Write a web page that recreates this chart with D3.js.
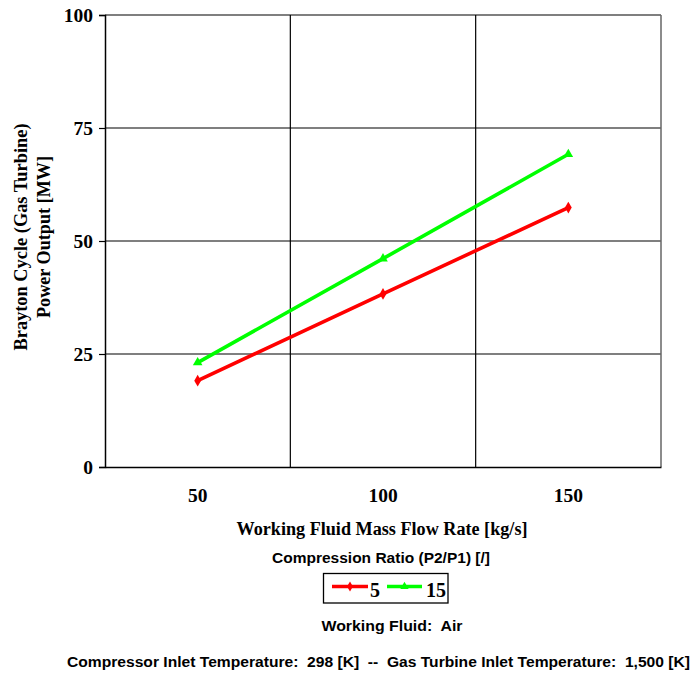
<!DOCTYPE html>
<html>
<head>
<meta charset="utf-8">
<script src="https://cdn.jsdelivr.net/npm/d3@7"></script>
<style>
  html, body { margin: 0; padding: 0; background: #fff; }
  svg { display: block; }
  .note { white-space: pre; }
</style>
</head>
<body>
<svg id="chart" width="691" height="673"></svg>
<script>
// Mass flow rate categories [kg/s]
const massFlow = ["50", "100", "150"];
// Power output [MW] per compression ratio
const ratio5 = [19.1, 38.3, 57.4];
const ratio15 = [23.1, 46.1, 69.2];
const seriesNames = ["5", "15"];
const seriesColors = ["#ff0000", "#00ff00"];
const yTicks = [0, 25, 50, 75, 100];

const series = [
  { name: seriesNames[0], values: ratio5, color: seriesColors[0], marker: d3.symbolDiamond },
  { name: seriesNames[1], values: ratio15, color: seriesColors[1], marker: d3.symbolTriangle }
];

const svg = d3.select("#chart");
const plot = { left: 105, right: 661, top: 15, bottom: 467 };

const x = d3.scaleBand().domain(massFlow).range([plot.left, plot.right]).padding(0);
const y = d3.scaleLinear().domain([0, 100]).range([plot.bottom, plot.top]);

const serif = "'Liberation Serif', 'Times New Roman', serif";
const sans = "'Liberation Sans', Arial, sans-serif";

// Horizontal gridlines
svg.append("g")
  .selectAll("line")
  .data(yTicks.filter(t => t > 0))
  .join("line")
  .attr("x1", plot.left).attr("x2", plot.right)
  .attr("y1", d => y(d)).attr("y2", d => y(d))
  .attr("stroke", "#000").attr("stroke-width", 1.2);

// Vertical gridlines at band boundaries
svg.append("g")
  .selectAll("line")
  .data(massFlow.slice(1))
  .join("line")
  .attr("x1", d => x(d)).attr("x2", d => x(d))
  .attr("y1", plot.top).attr("y2", plot.bottom)
  .attr("stroke", "#000").attr("stroke-width", 1.2);

// Right border
svg.append("line")
  .attr("x1", plot.right).attr("x2", plot.right)
  .attr("y1", plot.top).attr("y2", plot.bottom)
  .attr("stroke", "#666").attr("stroke-width", 1.5);

// Y axis
const yAxis = svg.append("g")
  .attr("transform", `translate(${plot.left},0)`)
  .call(d3.axisLeft(y).tickValues(yTicks).tickSize(6).tickPadding(6));
yAxis.select(".domain").attr("stroke", "#000").attr("stroke-width", 1.5);
yAxis.selectAll(".tick line").attr("stroke", "#000").attr("stroke-width", 1.2);
yAxis.selectAll(".tick text")
  .attr("font-family", serif).attr("font-weight", "bold").attr("font-size", 19.5).attr("fill", "#000")
  .attr("dy", "0.34em");

// X axis
const xAxis = svg.append("g")
  .attr("transform", `translate(0,${plot.bottom})`)
  .call(d3.axisBottom(x).tickSize(0));
xAxis.select(".domain").attr("stroke", "#000").attr("stroke-width", 1.5);
xAxis.selectAll(".tick text")
  .attr("font-family", serif).attr("font-weight", "bold").attr("font-size", 19.5).attr("fill", "#000")
  .attr("y", 35).attr("dy", null);

// Series lines and markers
const line = d3.line()
  .x((d, i) => x(massFlow[i]) + x.bandwidth() / 2)
  .y(d => y(d));

series.forEach(s => {
  svg.append("path")
    .datum(s.values)
    .attr("d", line)
    .attr("fill", "none")
    .attr("stroke", s.color)
    .attr("stroke-width", 3.6);
  svg.append("g")
    .selectAll("path")
    .data(s.values)
    .join("path")
    .attr("transform", (d, i) => `translate(${x(massFlow[i]) + x.bandwidth() / 2},${y(d)})`)
    .attr("d", d3.symbol().type(s.marker).size(40))
    .attr("fill", s.color);
});

// Y axis title
const yTitle = svg.append("text")
  .attr("transform", "translate(0,237) rotate(-90)")
  .attr("text-anchor", "middle")
  .attr("font-family", serif).attr("font-weight", "bold").attr("font-size", 18.5).attr("fill", "#000");
yTitle.append("tspan").attr("x", 0).attr("y", 27)
  .attr("textLength", 227).attr("lengthAdjust", "spacingAndGlyphs")
  .text("Brayton Cycle (Gas Turbine)");
yTitle.append("tspan").attr("x", 0).attr("y", 50)
  .attr("textLength", 162).attr("lengthAdjust", "spacingAndGlyphs")
  .text("Power Output [MW]");

// X axis title
svg.append("text")
  .attr("x", 382).attr("y", 535)
  .attr("text-anchor", "middle")
  .attr("font-family", serif).attr("font-weight", "bold").attr("font-size", 18.5).attr("fill", "#000")
  .attr("textLength", 291).attr("lengthAdjust", "spacingAndGlyphs")
  .text("Working Fluid Mass Flow Rate [kg/s]");

// Legend title
svg.append("text")
  .attr("x", 381).attr("y", 563)
  .attr("text-anchor", "middle")
  .attr("font-family", sans).attr("font-weight", "bold").attr("font-size", 14.5).attr("fill", "#000")
  .attr("textLength", 218).attr("lengthAdjust", "spacingAndGlyphs")
  .text("Compression Ratio (P2/P1) [/]");

// Legend box
const legend = svg.append("g");
legend.append("rect")
  .attr("x", 323.5).attr("y", 573.5).attr("width", 124.5).attr("height", 29.5)
  .attr("fill", "#fff").attr("stroke", "#000").attr("stroke-width", 1.3);
const legendItems = [
  { x0: 332, x1: 368, tx: 370 },
  { x0: 387, x1: 422, tx: 426 }
];
series.forEach((s, i) => {
  const it = legendItems[i];
  legend.append("line")
    .attr("x1", it.x0).attr("x2", it.x1).attr("y1", 586.5).attr("y2", 586.5)
    .attr("stroke", s.color).attr("stroke-width", 3.6);
  legend.append("path")
    .attr("transform", `translate(${(it.x0 + it.x1) / 2},586.5)`)
    .attr("d", d3.symbol().type(s.marker).size(30))
    .attr("fill", s.color);
  legend.append("text")
    .attr("x", it.tx).attr("y", 597)
    .attr("font-family", serif).attr("font-weight", "bold").attr("font-size", 20).attr("fill", "#000")
    .text(s.name);
});

// Notes below the legend
svg.append("text")
  .attr("class", "note")
  .attr("x", 392).attr("y", 631)
  .attr("text-anchor", "middle")
  .attr("font-family", sans).attr("font-weight", "bold").attr("font-size", 14.5).attr("fill", "#000")
  .attr("textLength", 141).attr("lengthAdjust", "spacingAndGlyphs")
  .text("Working Fluid:  Air");

svg.append("text")
  .attr("class", "note")
  .attr("x", 67).attr("y", 667)
  .attr("font-family", sans).attr("font-weight", "bold").attr("font-size", 14.5).attr("fill", "#000")
  .attr("textLength", 623).attr("lengthAdjust", "spacingAndGlyphs")
  .text("Compressor Inlet Temperature:  298 [K]  --  Gas Turbine Inlet Temperature:  1,500 [K]");
</script>
</body>
</html>
